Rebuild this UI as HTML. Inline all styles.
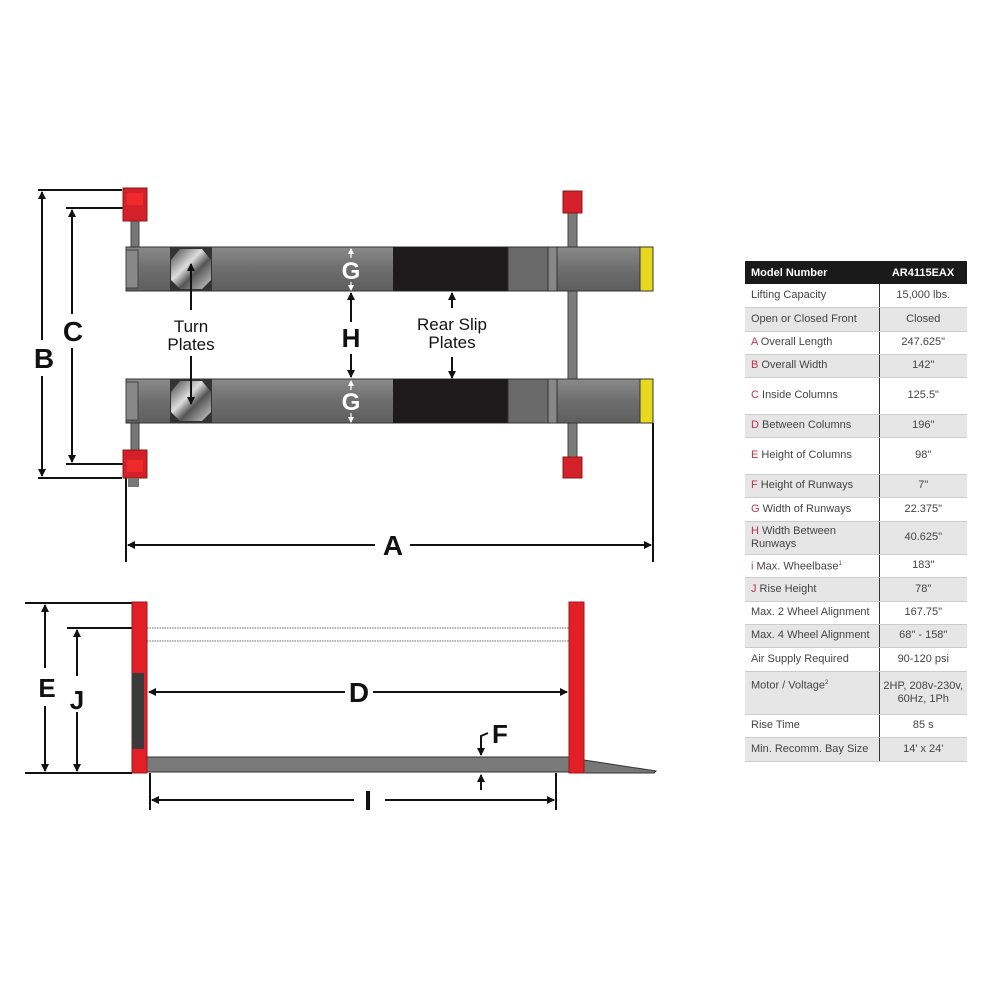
<!DOCTYPE html>
<html><head><meta charset="utf-8"><style>
body{margin:0;background:#fff;width:1000px;height:1000px;overflow:hidden;position:relative;font-family:"Liberation Sans",sans-serif}
table{position:absolute;left:745px;top:261px;width:222px;border-collapse:collapse;font-size:11px;color:#444;table-layout:fixed}
td{border-bottom:1px solid #ccc;padding:0 0 0 6px;line-height:13px}
td.v{border-left:1px solid #333;text-align:center;padding:0}
tr.g td{background:#e6e6e6}
th{background:#1a1a1a;color:#fff;font-size:11px;text-align:left;padding:0 0 0 6px;height:23px}
th.v{text-align:center;padding:0}
.r{color:#c0344a}
</style></head><body>
<svg width="1000" height="1000" style="position:absolute;left:0;top:0">
<defs>
<linearGradient id="rw" x1="0" y1="0" x2="0" y2="1"><stop offset="0" stop-color="#8a8a8a"/><stop offset="0.5" stop-color="#6e6e6e"/><stop offset="1" stop-color="#5e5e5e"/></linearGradient>
<linearGradient id="tp" x1="0" y1="0" x2="1" y2="1"><stop offset="0" stop-color="#444"/><stop offset="0.4" stop-color="#ddd"/><stop offset="0.6" stop-color="#555"/><stop offset="1" stop-color="#ccc"/></linearGradient>
<marker id="ah" markerWidth="8" markerHeight="8" refX="7" refY="4" orient="auto-start-reverse" markerUnits="userSpaceOnUse"><path d="M0,0 L8,4 L0,8 z" fill="#111"/></marker>
<marker id="aw" markerWidth="6" markerHeight="6" refX="5" refY="3" orient="auto" markerUnits="userSpaceOnUse"><path d="M0,0 L6,3 L0,6 z" fill="#fff"/></marker>
</defs>
<g stroke="#111" stroke-width="2" fill="none">
<line x1="38" y1="190" x2="122" y2="190"/><line x1="38" y1="478" x2="122" y2="478"/>
<line x1="42" y1="192" x2="42" y2="340" marker-start="url(#ah)"/><line x1="42" y1="376" x2="42" y2="476" marker-end="url(#ah)"/>
<line x1="66" y1="208" x2="130" y2="208"/><line x1="66" y1="464" x2="130" y2="464"/>
<line x1="72" y1="210" x2="72" y2="314" marker-start="url(#ah)"/><line x1="72" y1="348" x2="72" y2="462" marker-end="url(#ah)"/>
<line x1="126" y1="478" x2="126" y2="562"/><line x1="653" y1="423" x2="653" y2="562"/>
<line x1="128" y1="545" x2="375" y2="545" marker-start="url(#ah)"/><line x1="410" y1="545" x2="651" y2="545" marker-end="url(#ah)"/>
</g>
<rect x="131" y="220" width="8" height="28" fill="#777" stroke="#444"/>
<rect x="131" y="422" width="8" height="30" fill="#777" stroke="#444"/>
<rect x="123" y="188" width="24" height="33" fill="#d42028" stroke="#8a1a1a"/>
<rect x="127" y="193" width="16" height="12" fill="#ee2a2a"/>
<rect x="123" y="450" width="24" height="28" fill="#d42028" stroke="#8a1a1a"/>
<rect x="127" y="460" width="16" height="12" fill="#ee2a2a"/>
<rect x="128" y="478" width="11" height="9" fill="#777"/>
<rect x="568" y="210" width="9" height="250" fill="#7a7a7a" stroke="#444"/>
<rect x="563" y="191" width="19" height="22" fill="#d42028" stroke="#8a1a1a"/>
<rect x="563" y="457" width="19" height="21" fill="#d42028" stroke="#8a1a1a"/>
<g>
<rect x="126" y="247" width="514" height="44" fill="url(#rw)" stroke="#333"/>
<rect x="126" y="250" width="12" height="38" fill="#888" stroke="#444"/>
<rect x="170" y="247" width="42" height="44" fill="#333"/>
<polygon points="180,249 202,249 211,260 211,280 202,289 180,289 171,280 171,260" fill="url(#tp)"/>
<rect x="393" y="247" width="115" height="44" fill="#1c1a1a"/>
<rect x="508" y="247" width="40" height="44" fill="#6a6a6a" stroke="#333"/>
<rect x="548" y="247" width="9" height="44" fill="#888" stroke="#333"/>
<rect x="640" y="247" width="13" height="44" fill="#e8d820" stroke="#333"/>
</g>
<g transform="translate(0,132)">
<rect x="126" y="247" width="514" height="44" fill="url(#rw)" stroke="#333"/>
<rect x="126" y="250" width="12" height="38" fill="#888" stroke="#444"/>
<rect x="170" y="247" width="42" height="44" fill="#333"/>
<polygon points="180,249 202,249 211,260 211,280 202,289 180,289 171,280 171,260" fill="url(#tp)"/>
<rect x="393" y="247" width="115" height="44" fill="#1c1a1a"/>
<rect x="508" y="247" width="40" height="44" fill="#6a6a6a" stroke="#333"/>
<rect x="548" y="247" width="9" height="44" fill="#888" stroke="#333"/>
<rect x="640" y="247" width="13" height="44" fill="#e8d820" stroke="#333"/>
</g>
<g stroke="#111" stroke-width="2">
<line x1="191" y1="310" x2="191" y2="264" marker-end="url(#ah)"/>
<line x1="191" y1="356" x2="191" y2="404" marker-end="url(#ah)"/>
<line x1="452" y1="308" x2="452" y2="293" marker-end="url(#ah)"/>
<line x1="452" y1="357" x2="452" y2="378" marker-end="url(#ah)"/>
<line x1="351" y1="322" x2="351" y2="293" marker-end="url(#ah)"/>
<line x1="351" y1="354" x2="351" y2="377" marker-end="url(#ah)"/>
</g>
<g stroke="#fff" stroke-width="1.2">
<line x1="351" y1="258" x2="351" y2="249" marker-end="url(#aw)"/><line x1="351" y1="282" x2="351" y2="290" marker-end="url(#aw)"/>
<line x1="351" y1="390" x2="351" y2="381" marker-end="url(#aw)"/><line x1="351" y1="413" x2="351" y2="422" marker-end="url(#aw)"/>
</g>
<g font-family="Liberation Sans" font-weight="bold" text-anchor="middle">
<text x="351" y="279" font-size="24" fill="#fff">G</text>
<text x="351" y="410" font-size="24" fill="#fff">G</text>
<text x="351" y="347" font-size="26" fill="#111">H</text>
<text x="44" y="368" font-size="28" fill="#111">B</text>
<text x="73" y="341" font-size="28" fill="#111">C</text>
<text x="393" y="555" font-size="28" fill="#111">A</text>
</g>
<g font-family="Liberation Sans" text-anchor="middle" font-size="17" fill="#111">
<text x="191" y="332">Turn</text><text x="191" y="350">Plates</text>
<text x="452" y="330">Rear Slip</text><text x="452" y="348">Plates</text>
</g>
<g stroke="#111" stroke-width="2" fill="none">
<line x1="25" y1="603" x2="132" y2="603"/><line x1="25" y1="773" x2="132" y2="773"/>
<line x1="67" y1="628" x2="132" y2="628"/>
<line x1="45" y1="605" x2="45" y2="668" marker-start="url(#ah)"/><line x1="45" y1="706" x2="45" y2="771" marker-end="url(#ah)"/>
<line x1="77" y1="630" x2="77" y2="676" marker-start="url(#ah)"/><line x1="77" y1="712" x2="77" y2="771" marker-end="url(#ah)"/>
<line x1="149" y1="692" x2="345" y2="692" marker-start="url(#ah)"/><line x1="373" y1="692" x2="567" y2="692" marker-end="url(#ah)"/>
<line x1="150" y1="773" x2="150" y2="810"/><line x1="556" y1="773" x2="556" y2="810"/>
<line x1="152" y1="800" x2="354" y2="800" marker-start="url(#ah)"/><line x1="385" y1="800" x2="554" y2="800" marker-end="url(#ah)"/>
<polyline points="488,733 481,736 481,755" marker-end="url(#ah)"/>
<line x1="481" y1="790" x2="481" y2="775" marker-end="url(#ah)"/>
</g>
<line x1="147" y1="628" x2="569" y2="628" stroke="#888" stroke-width="1.2" stroke-dasharray="1.5,1"/>
<line x1="147" y1="641" x2="569" y2="641" stroke="#888" stroke-width="1.2" stroke-dasharray="1.5,1"/>
<rect x="147" y="757" width="422" height="15" fill="#7a7a7a" stroke="#333"/>
<polygon points="584,760 656,771 654,773 584,773" fill="#777" stroke="#333"/>
<rect x="132" y="602" width="15" height="171" fill="#e21f26" stroke="#9a1a1a"/>
<rect x="132" y="673" width="12" height="76" fill="#3a3a3a"/>
<rect x="569" y="602" width="15" height="171" fill="#e21f26" stroke="#9a1a1a"/>
<g font-family="Liberation Sans" font-weight="bold" text-anchor="middle" fill="#111">
<text x="47" y="697" font-size="26">E</text>
<text x="77" y="709" font-size="26">J</text>
<text x="359" y="702" font-size="28">D</text>
<text x="368" y="810" font-size="28">I</text>
<text x="500" y="743" font-size="26">F</text>
</g>
</svg>
<table>
<colgroup><col style="width:134px"><col style="width:88px"></colgroup>
<tr><th>Model Number</th><th class="v">AR4115EAX</th></tr>
<tr style="height:23px"><td>Lifting Capacity</td><td class="v">15,000 lbs.</td></tr>
<tr class="g" style="height:24px"><td>Open or Closed Front</td><td class="v">Closed</td></tr>
<tr style="height:23px"><td><span class="r">A</span> Overall Length</td><td class="v">247.625"</td></tr>
<tr class="g" style="height:23px"><td><span class="r">B</span> Overall Width</td><td class="v">142"</td></tr>
<tr style="height:37px"><td><span class="r">C</span> Inside Columns</td><td class="v">125.5"</td></tr>
<tr class="g" style="height:23px"><td><span class="r">D</span> Between Columns</td><td class="v">196"</td></tr>
<tr style="height:37px"><td><span class="r">E</span> Height of Columns</td><td class="v">98"</td></tr>
<tr class="g" style="height:23px"><td><span class="r">F</span> Height of Runways</td><td class="v">7"</td></tr>
<tr style="height:24px"><td><span class="r">G</span> Width of Runways</td><td class="v">22.375"</td></tr>
<tr class="g" style="height:33px"><td><span class="r">H</span> Width Between<br>Runways</td><td class="v">40.625"</td></tr>
<tr style="height:23px"><td><span class="r">i</span> Max. Wheelbase<sup style="font-size:6px">1</sup></td><td class="v">183"</td></tr>
<tr class="g" style="height:24px"><td><span class="r">J</span> Rise Height</td><td class="v">78"</td></tr>
<tr style="height:23px"><td>Max. 2 Wheel Alignment</td><td class="v">167.75"</td></tr>
<tr class="g" style="height:23px"><td>Max. 4 Wheel Alignment</td><td class="v">68" - 158"</td></tr>
<tr style="height:24px"><td>Air Supply Required</td><td class="v">90-120 psi</td></tr>
<tr class="g" style="height:43px"><td style="vertical-align:top;padding-top:5px">Motor / Voltage<sup style="font-size:6px">2</sup></td><td class="v">2HP, 208v-230v,<br>60Hz, 1Ph</td></tr>
<tr style="height:23px"><td>Rise Time</td><td class="v">85 s</td></tr>
<tr class="g" style="height:24px"><td>Min. Recomm. Bay Size</td><td class="v">14' x 24'</td></tr>
</table>
</body></html>
